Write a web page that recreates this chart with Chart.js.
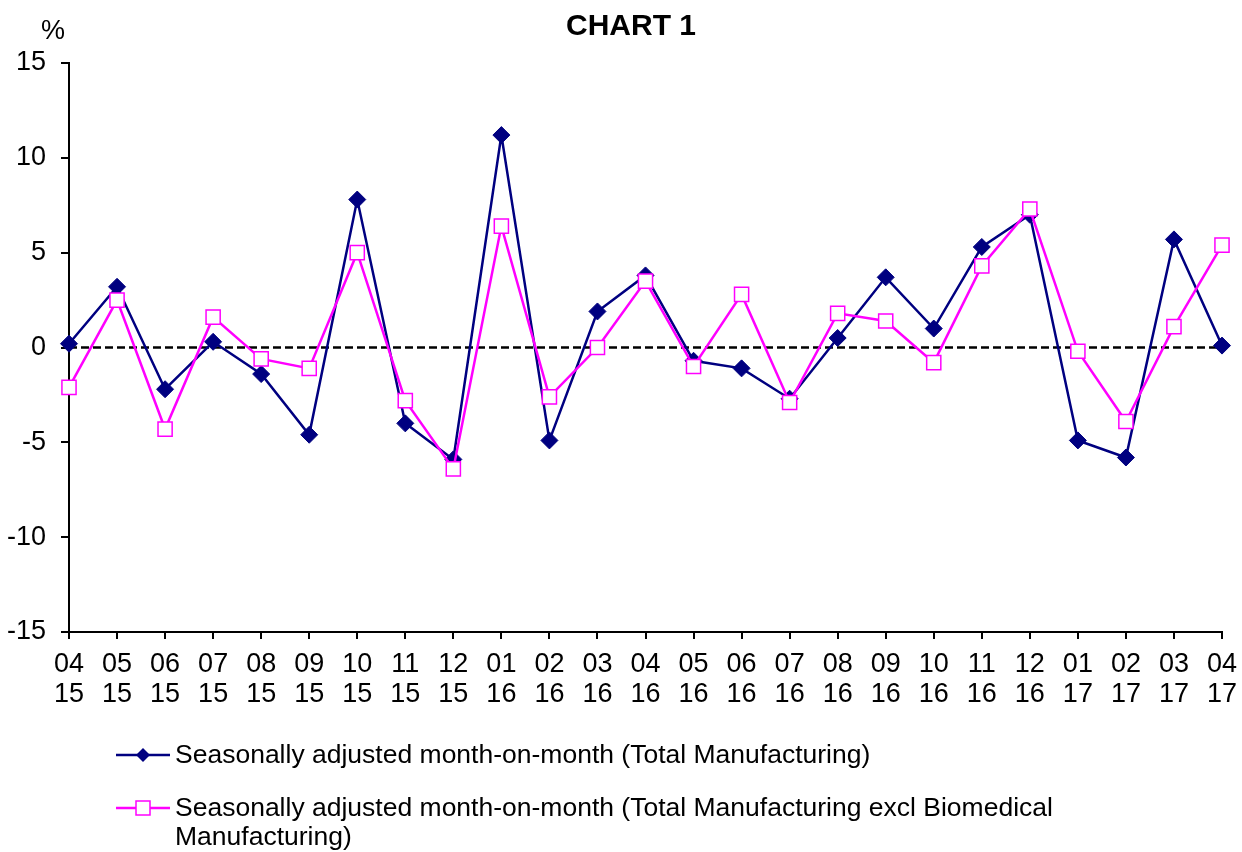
<!DOCTYPE html>
<html>
<head>
<meta charset="utf-8">
<script src="https://cdn.jsdelivr.net/npm/chart.js@4/dist/chart.umd.min.js"></script>
<style>
  html, body { margin: 0; padding: 0; background: #fff; }
  #wrap { position: relative; width: 1242px; height: 852px; font-family: "Liberation Sans", Arial, sans-serif; color: #000; }
  #c { position: absolute; left: 0; top: 0; }
  .txt { position: absolute; white-space: nowrap; }
  #title { left: 566px; top: 10px; font-size: 30px; line-height: 30px; font-weight: bold; }
  #unit { left: 41px; top: 17px; font-size: 27px; line-height: 27px; }
  .leg { position: absolute; left: 116px; width: 1000px; font-size: 26.5px; line-height: 29px; }
  .leg svg { position: absolute; left: 0; top: 0; }
  .leg .lt { position: absolute; left: 59px; top: 0; width: 900px; white-space: normal; }
</style>
</head>
<body>
<div id="wrap">
  <canvas id="c" width="1242" height="852"></canvas>
  <div id="title" class="txt">CHART 1</div>
  <div id="unit" class="txt">%</div>
  <div class="leg" id="leg1" style="top:740px;">
    <svg width="56" height="29"><line x1="0" y1="15" x2="54" y2="15" stroke="#000080" stroke-width="2.5"/><polygon points="27,8 34,15 27,22 20,15" fill="#000080"/></svg>
    <div class="lt" id="lt1"></div>
  </div>
  <div class="leg" id="leg2" style="top:793px;">
    <svg width="56" height="29"><line x1="0" y1="15" x2="54" y2="15" stroke="#FF00FF" stroke-width="2.5"/><rect x="20" y="8" width="14" height="14" fill="#fff" stroke="#FF00FF" stroke-width="1.5"/></svg>
    <div class="lt" id="lt2"></div>
  </div>
</div>
<script>
const months = ['04','05','06','07','08','09','10','11','12','01','02','03','04','05','06','07','08','09','10','11','12','01','02','03','04'];
const years  = ['15','15','15','15','15','15','15','15','15','16','16','16','16','16','16','16','16','16','16','16','16','17','17','17','17'];
const totalMfg = [0.2, 3.2, -2.2, 0.3, -1.4, -4.6, 7.8, -4.0, -5.9, 11.2, -4.9, 1.9, 3.8, -0.7, -1.1, -2.7, 0.5, 3.7, 1.0, 5.3, 7.0, -4.9, -5.8, 5.7, 0.1];
const exclBiomed = [-2.1, 2.5, -4.3, 1.6, -0.6, -1.1, 5.0, -2.8, -6.4, 6.4, -2.6, 0.0, 3.5, -1.0, 2.8, -2.9, 1.8, 1.4, -0.8, 4.3, 7.3, -0.2, -3.9, 1.1, 5.4];
const yTicks = [-15, -10, -5, 0, 5, 10, 15];
const seriesNames = [
  'Seasonally adjusted month-on-month (Total Manufacturing)',
  'Seasonally adjusted month-on-month (Total Manufacturing excl Biomedical Manufacturing)'
];

document.getElementById('lt1').textContent = seriesNames[0];
document.getElementById('lt2').textContent = seriesNames[1];

const labels = months.map((m, i) => [m, years[i]]);
const FONT = '"Liberation Sans", Arial, sans-serif';

const zeroLine = {
  id: 'zeroLine',
  beforeDatasetsDraw(chart) {
    const { ctx, chartArea, scales } = chart;
    const y = scales.y.getPixelForValue(0);
    ctx.save();
    ctx.strokeStyle = '#000';
    ctx.lineWidth = 2.5;
    ctx.setLineDash([8, 4]);
    ctx.beginPath();
    ctx.moveTo(chartArea.left, y);
    ctx.lineTo(chartArea.right, y);
    ctx.stroke();
    ctx.restore();
  }
};

new Chart(document.getElementById('c'), {
  type: 'line',
  data: {
    labels: labels,
    datasets: [
      {
        label: seriesNames[0],
        data: totalMfg,
        borderColor: '#000080',
        backgroundColor: '#000080',
        borderWidth: 2.5,
        pointStyle: 'rectRot',
        pointRadius: 8.5,
        pointHoverRadius: 8.5,
        pointBorderWidth: 1,
        pointBorderColor: '#000080',
        pointBackgroundColor: '#000080',
        tension: 0,
        order: 2
      },
      {
        label: seriesNames[1],
        data: exclBiomed,
        borderColor: '#FF00FF',
        backgroundColor: '#FFFFFF',
        borderWidth: 2.5,
        pointStyle: 'rect',
        pointRadius: 10,
        pointHoverRadius: 10,
        pointBorderWidth: 1.5,
        pointBorderColor: '#FF00FF',
        pointBackgroundColor: '#FFFFFF',
        tension: 0,
        order: 1
      }
    ]
  },
  options: {
    responsive: false,
    animation: false,
    events: [],
    layout: { padding: { top: 63, right: 20, left: 0, bottom: 0 } },
    plugins: {
      legend: { display: false },
      title: { display: false },
      tooltip: { enabled: false }
    },
    scales: {
      x: {
        type: 'category',
        offset: false,
        afterFit(scale) { scale.height = 220; scale.paddingLeft = 0; scale.paddingRight = 0; },
        border: { display: true, color: '#000', width: 2 },
        grid: { display: true, drawOnChartArea: false, drawTicks: true, tickLength: 7, color: '#000', lineWidth: 2 },
        ticks: {
          autoSkip: false,
          maxRotation: 0,
          minRotation: 0,
          padding: 11,
          color: '#000',
          font: { family: FONT, size: 27, lineHeight: 1.11 }
        }
      },
      y: {
        min: -15,
        max: 15,
        afterFit(scale) { scale.width = 69; scale.paddingTop = 0; scale.paddingBottom = 0; },
        afterBuildTicks(scale) { scale.ticks = yTicks.map(v => ({ value: v })); },
        border: { display: true, color: '#000', width: 2 },
        grid: { display: true, drawOnChartArea: false, drawTicks: true, tickLength: 8, color: '#000', lineWidth: 2 },
        ticks: {
          padding: 15,
          color: '#000',
          font: { family: FONT, size: 27 }
        }
      }
    }
  },
  plugins: [zeroLine]
});
</script>
</body>
</html>
